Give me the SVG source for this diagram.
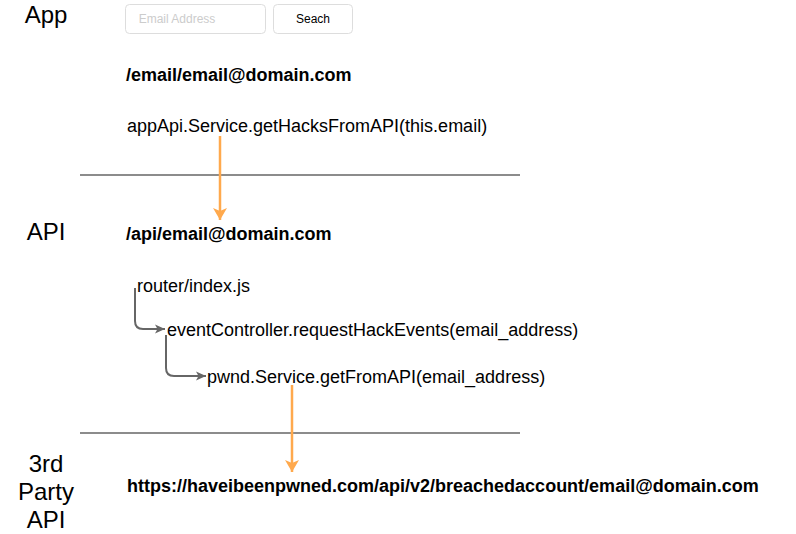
<svg xmlns="http://www.w3.org/2000/svg" width="796" height="534" viewBox="0 0 796 534">
<style>
text{font-family:"Liberation Sans",Arial,sans-serif;fill:#000}
.lane{font-size:24px;text-anchor:middle}
.b{font-size:18px;font-weight:bold}
.r{font-size:18px}
.sep{stroke:#666;stroke-width:1.5}
.or{stroke:#ffa94d;stroke-width:2.5;fill:none}
.gr{stroke:#666;stroke-width:2;fill:none}
</style>
<defs>
<marker id="ao" markerWidth="14" markerHeight="14" refX="12" refY="7" orient="auto" markerUnits="userSpaceOnUse"><path d="M0,0 L12,7 L0,14 L3,7 Z" fill="#ffa94d"/></marker>
<marker id="ag" markerWidth="12" markerHeight="12" refX="10" refY="6" orient="auto" markerUnits="userSpaceOnUse"><path d="M0,1.5 L10,6 L0,10.5 L2.5,6 Z" fill="#666"/></marker>
</defs>
<rect width="796" height="534" fill="#fff"/>
<g id="lanes">
<text class="lane" x="46" y="23">App</text>
<text class="lane" x="46" y="240">API</text>
<text class="lane" x="46" y="472">3rd</text>
<text class="lane" x="46" y="500">Party</text>
<text class="lane" x="46" y="528">API</text>
<line class="sep" x1="80" y1="175" x2="520" y2="175"/>
<line class="sep" x1="80" y1="433" x2="520" y2="433"/>
</g>
<g id="emailInput">
<rect x="125.5" y="4.5" width="140" height="29" rx="4" fill="#fff" stroke="#ddd"/>
<text x="177" y="23" font-size="12" text-anchor="middle" style="fill:#ccc">Email Address</text>
</g>
<g id="searchButton">
<rect x="273.5" y="4.5" width="79" height="29" rx="4" fill="#fff" stroke="#ddd"/>
<text x="313" y="23" font-size="12" text-anchor="middle">Seach</text>
</g>
<g id="appRoute"><text class="b" x="126" y="81">/email/email@domain.com</text></g>
<g id="appCall"><text class="r" x="127" y="132">appApi.Service.getHacksFromAPI(this.email)</text></g>
<g id="apiRoute"><text class="b" x="126" y="240">/api/email@domain.com</text></g>
<g id="router"><text class="r" x="137" y="292">router/index.js</text></g>
<g id="eventController"><text class="r" x="167" y="336">eventController.requestHackEvents(email_address)</text></g>
<g id="pwndService"><text class="r" x="207" y="383">pwnd.Service.getFromAPI(email_address)</text></g>
<g id="hibp"><text class="b" x="127" y="492">https://haveibeenpwned.com/api/v2/breachedaccount/email@domain.com</text></g>
<g id="connectors">
<path class="or" d="M220,136 V220" marker-end="url(#ao)"/>
<path class="or" d="M292,385 V472" marker-end="url(#ao)"/>
<path class="gr" d="M135,288 V321 Q135,329 143,329 H165" marker-end="url(#ag)"/>
<path class="gr" d="M166,335 V368 Q166,376 174,376 H206" marker-end="url(#ag)"/>
</g>
</svg>
